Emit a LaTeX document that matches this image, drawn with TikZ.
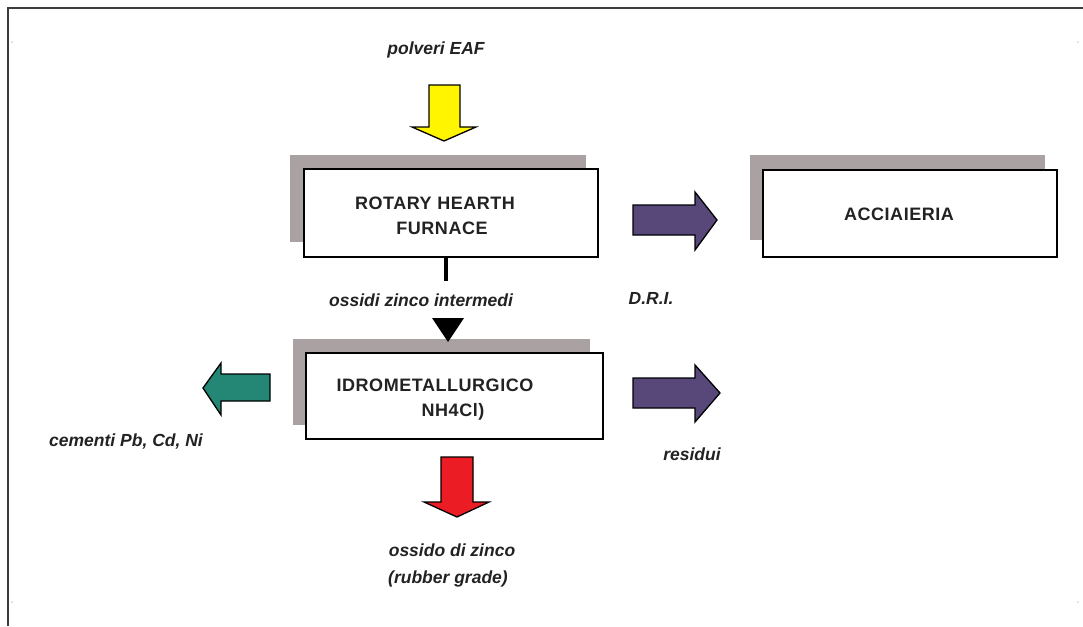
\documentclass[tikz,border=0pt]{standalone}
\usepackage{fontspec}
\setmainfont{Liberation Sans}
\newfontfamily\boxfont[LetterSpace=3]{Liberation Sans}
\definecolor{shadowc}{RGB}{170,162,162}
\definecolor{arrowyellow}{RGB}{255,245,0}
\definecolor{arrowpurple}{RGB}{88,72,122}
\definecolor{arrowgreen}{RGB}{36,134,116}
\definecolor{arrowred}{RGB}{236,28,36}
\definecolor{txt}{RGB}{34,34,34}
\definecolor{framec}{RGB}{60,60,60}
\begin{document}
\begin{tikzpicture}[x=1pt,y=-1pt,
  boxst/.style={draw=black, line width=1.6pt, fill=white, rectangle, anchor=north west, inner sep=0pt, outer sep=0pt},
  boxtext/.style={text=txt, font=\boxfont\fontsize{18}{20}\selectfont\bfseries, inner sep=0pt},
  lbl/.style={text=txt, font=\fontsize{17.5}{20}\selectfont\bfseries\itshape, inner sep=0pt},
  blockarrow/.style={draw=black, line width=1.3pt, line join=miter},
  shadowst/.style={fill=shadowc}]
\useasboundingbox (0,0) rectangle (1083,626);
% outer frame
\draw[framec, line width=1.2pt] (8,626) -- (8,8) -- (1083,8);
\foreach \p in {(12,42),(1078,42),(12,602),(1078,602)}
  \fill[gray!45] \p circle (0.9);
% shadows
\fill[shadowst] (290,155) rectangle (586,242);
\fill[shadowst] (750,155) rectangle (1045,240);
\fill[shadowst] (293,339) rectangle (590,425);
% boxes
\node[boxst, minimum width=294pt, minimum height=88pt] (rhf) at (304,169) {};
\node[boxst, minimum width=294pt, minimum height=87pt] (acc) at (763,170) {};
\node[boxst, minimum width=297pt, minimum height=86pt] (idro) at (306,353) {};
% box texts
\node[boxtext] (rhf1) at (435,203) {ROTARY HEARTH};
\node[boxtext] (rhf2) at (442,228) {FURNACE};
\node[boxtext] (acct) at (899,214) {ACCIAIERIA};
\node[boxtext] (idro1) at (435,385) {IDROMETALLURGICO};
\node[boxtext] (idro2) at (453,412) {NH4Cl)};
% block arrows
\filldraw[blockarrow, fill=arrowyellow] (429,85) -- (460,85) -- (460,127) -- (476,127) -- (444,141) -- (412,127) -- (429,127) -- cycle;
\filldraw[blockarrow, fill=arrowpurple] (633,205) -- (695,205) -- (695,192) -- (717,220) -- (695,250) -- (695,235) -- (633,235) -- cycle;
\filldraw[blockarrow, fill=arrowpurple] (633,378) -- (695,378) -- (695,365) -- (720,393) -- (695,422) -- (695,408) -- (633,408) -- cycle;
\filldraw[blockarrow, fill=arrowgreen] (270,374) -- (221,374) -- (221,363) -- (203,388) -- (221,415) -- (221,401) -- (270,401) -- cycle;
\filldraw[blockarrow, fill=arrowred] (441,457) -- (473,457) -- (473,502) -- (489,502) -- (457,517) -- (424,502) -- (441,502) -- cycle;
% connector RHF -> IDRO
\coordinate (lineend) at (446,281);
\draw[black, line width=3.6pt] ([xshift=-5pt]rhf.south) -- (lineend);
\fill[black] (432,318) -- (464,318) -- (448,342) -- cycle;
% labels
\node[lbl] (polveri) at (436,50) {polveri EAF};
\node[lbl] (ossidi) at (421,300) {ossidi zinco intermedi};
\node[lbl] (dri) at (651,298) {D.R.I.};
\node[lbl] (cementi) at (126,442) {cementi Pb, Cd, Ni};
\node[lbl] (residui) at (692,454) {residui};
\node[lbl] (ossido) at (452,550) {ossido di zinco};
\node[lbl] (rubber) at (448,579) {(rubber grade)};
\end{tikzpicture}
\end{document}
